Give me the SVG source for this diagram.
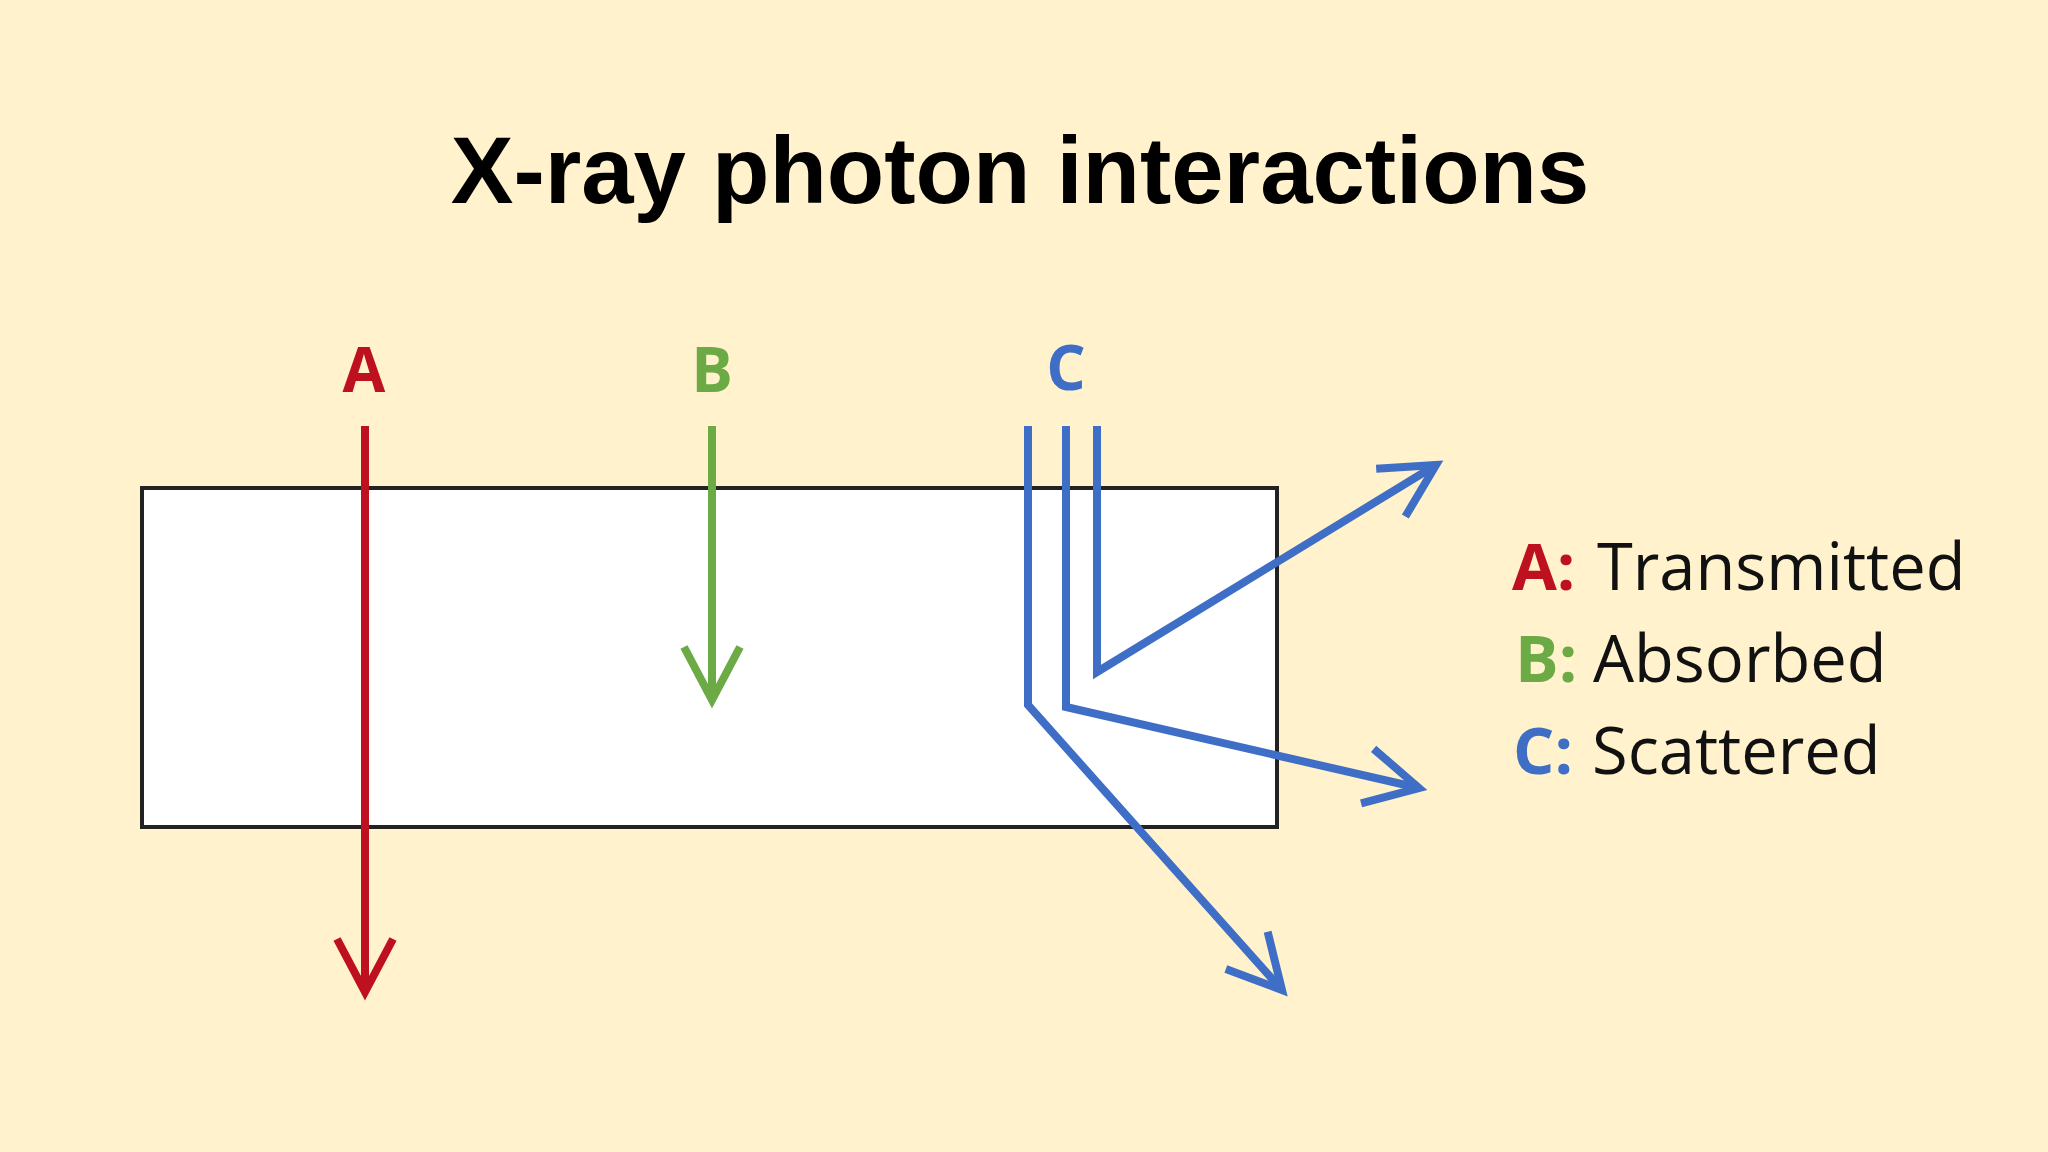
<svg xmlns="http://www.w3.org/2000/svg" width="2048" height="1152" viewBox="0 0 2048 1152">
  <style>
    .title { font-family: "Liberation Sans", Arial, sans-serif; font-weight: 700; font-size: 94px; fill: #000; }
    .lbl { font-family: "Open Sans", "Noto Sans", sans-serif; font-weight: 700; font-size: 62px; text-anchor: middle; }
    .leg { font-family: "Open Sans", "Noto Sans", sans-serif; font-size: 65px; fill: #111; }
    .legk { font-weight: 700; }
    .ray { fill: none; stroke-width: 8; stroke-linejoin: miter; }
    .red { stroke: #BE1120; }
    .green { stroke: #6BAA45; }
    .blue { stroke: #3F6EC6; }
  </style>
  <defs>
    <marker id="arrRed" markerUnits="userSpaceOnUse" refX="0" refY="0" markerWidth="10" markerHeight="10" orient="auto" overflow="visible">
      <path d="M -53 -28 L 0 0 L -53 28" fill="none" stroke="#BE1120" stroke-width="8"/>
    </marker>
    <marker id="arrGreen" markerUnits="userSpaceOnUse" refX="0" refY="0" markerWidth="10" markerHeight="10" orient="auto" overflow="visible">
      <path d="M -53 -28 L 0 0 L -53 28" fill="none" stroke="#6BAA45" stroke-width="8"/>
    </marker>
    <marker id="arrBlue" markerUnits="userSpaceOnUse" refX="0" refY="0" markerWidth="10" markerHeight="10" orient="auto" overflow="visible">
      <path d="M -53 -28 L 0 0 L -53 28" fill="none" stroke="#3F6EC6" stroke-width="8"/>
    </marker>
  </defs>

  <rect x="0" y="0" width="2048" height="1152" fill="#FFF2CC"/>

  <g id="title">
    <text class="title" x="1020" y="203" text-anchor="middle">X-ray photon interactions</text>
  </g>

  <g id="slab">
    <rect x="142" y="488" width="1135" height="339" fill="#FFFFFF" stroke="#222222" stroke-width="4"/>
  </g>

  <g id="label-A"><text class="lbl" x="364" y="392" fill="#BE1120">A</text></g>
  <g id="label-B"><text class="lbl" x="712" y="392" fill="#6BAA45">B</text></g>
  <g id="label-C"><text class="lbl" x="1066" y="390" fill="#3F6EC6">C</text></g>

  <g id="connectors">
    <line id="ray-A" class="ray red" x1="365" y1="426" x2="365" y2="992" marker-end="url(#arrRed)"/>
    <line id="ray-B" class="ray green" x1="712" y1="426" x2="712" y2="700" marker-end="url(#arrGreen)"/>
    <polyline id="ray-C1" class="ray blue" points="1028,426 1028,705 1282,990" marker-end="url(#arrBlue)"/>
    <polyline id="ray-C2" class="ray blue" points="1066,426 1066,707 1419,788" marker-end="url(#arrBlue)"/>
    <polyline id="ray-C3" class="ray blue" points="1097,426 1097,672 1436,465" marker-end="url(#arrBlue)"/>
  </g>

  <g id="legend">
    <text class="leg" y="590"><tspan class="legk" x="1512" fill="#BE1120">A:</tspan><tspan x="1597">Transmitted</tspan></text>
    <text class="leg" y="682"><tspan class="legk" x="1515" fill="#6BAA45">B:</tspan><tspan x="1593">Absorbed</tspan></text>
    <text class="leg" y="774"><tspan class="legk" x="1513" fill="#3F6EC6">C:</tspan><tspan x="1592">Scattered</tspan></text>
  </g>
</svg>
